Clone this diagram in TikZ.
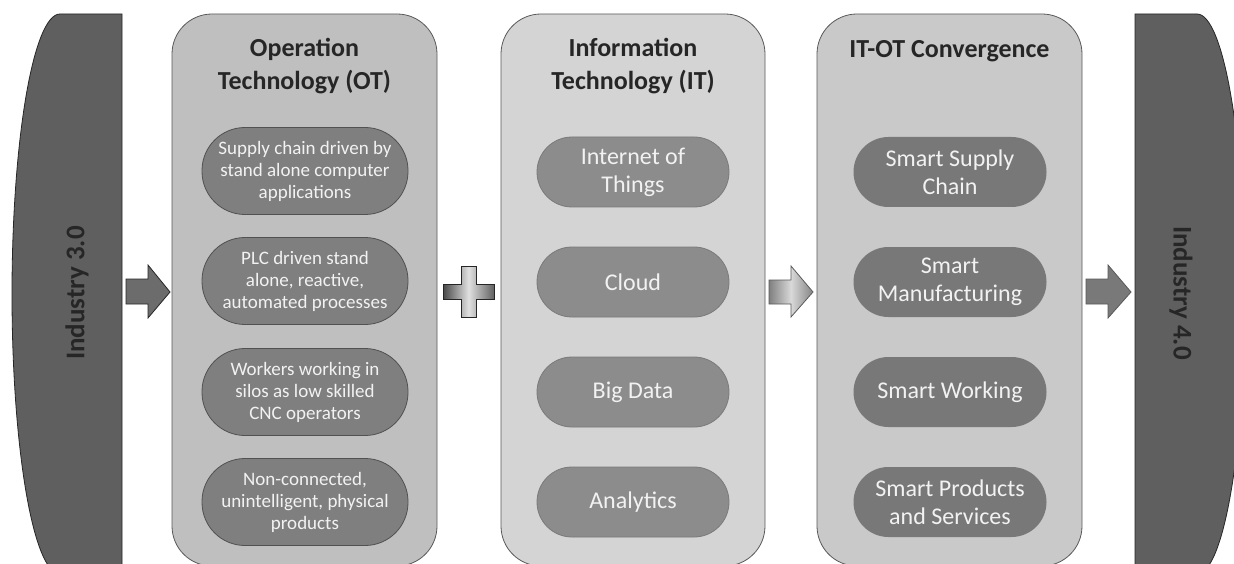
\documentclass[tikz,border=0pt]{standalone}
\usepackage{fontspec}
\setmainfont{Carlito}
\usetikzlibrary{positioning}

\definecolor{indfill}{HTML}{5F5F5F}
\definecolor{otfill}{HTML}{BFBFBF}
\definecolor{itfill}{HTML}{D4D4D4}
\definecolor{cvfill}{HTML}{C9C9C9}
\definecolor{otpill}{HTML}{7F7F7F}
\definecolor{itpill}{HTML}{8C8C8C}
\definecolor{cvpill}{HTML}{787878}
\definecolor{edgegray}{HTML}{595959}
\definecolor{txtdark}{HTML}{262626}
\definecolor{txtlight}{HTML}{F2F2F2}

\tikzset{
  colbox/.style={draw=edgegray,line width=.8pt,rounded corners=40pt,minimum height=552pt},
  coltitle/.style={font=\fontsize{26}{33}\selectfont\bfseries,text=txtdark,align=center},
  otitem/.style={draw=txtdark!80,fill=otpill,line width=.8pt,rounded corners=43pt,minimum width=206pt,minimum height=87pt,
    font=\fontsize{19}{22}\selectfont,text=txtlight,align=center},
  ititem/.style={draw=edgegray!80,fill=itpill,line width=.8pt,rounded corners=35pt,minimum width=192pt,minimum height=70pt,
    font=\fontsize{24}{28}\selectfont,text=txtlight,align=center},
  cvitem/.style={fill=cvpill,rounded corners=35pt,minimum width=193pt,minimum height=70pt,
    font=\fontsize{24}{28}\selectfont,text=txtlight,align=center},
  indtext/.style={font=\fontsize{27}{30}\selectfont\bfseries,text=txtdark},
}

\begin{document}
\begin{tikzpicture}[x=1pt,y=-1pt,every node/.style={inner sep=0pt}]
\clip (0,0) rectangle (1234,564);
% industry 3.0 / 4.0
\draw[fill=indfill,draw=txtdark,line width=.8pt] (60,14) -- (122,14) -- (122,574) -- (60,574)
  arc[start angle=90,end angle=270,x radius=48,y radius=280] -- cycle;
\draw[fill=indfill,draw=txtdark,line width=.8pt] (1197,14) -- (1135,14) -- (1135,574) -- (1197,574)
  arc[start angle=90,end angle=-90,x radius=48,y radius=280] -- cycle;
\node[indtext,rotate=90] (ind3) at (77,293) {Industry 3.0};
\node[indtext,rotate=-90] (ind4) at (1181,293) {Industry 4.0};

% columns
\node[colbox,fill=otfill,minimum width=265pt] (otbox) at (304.5,290) {};
\node[colbox,fill=itfill,minimum width=264pt] (itbox) at (633,290) {};
\node[colbox,fill=cvfill,minimum width=265pt] (cvbox) at (949.5,290) {};
\node[coltitle] (ottitle) at (304.5,66) {Operation\\Technology (OT)};
\node[coltitle] (ittitle) at (633,66) {Information\\Technology (IT)};
\node[coltitle] (cvtitle) at (949.5,51) {IT-OT Convergence};

\node[otitem] (ot1) at (305,171) {Supply chain driven by\\stand alone computer\\applications};
\node[otitem] (ot2) at (305,281) {PLC driven stand\\alone, reactive,\\automated processes};
\node[otitem] (ot3) at (305,392) {Workers working in\\silos as low skilled\\CNC operators};
\node[otitem] (ot4) at (305,502) {Non-connected,\\unintelligent, physical\\products};

\node[ititem] (it1) at (633,172) {Internet of\\Things};
\node[ititem] (it2) at (633,282) {Cloud};
\node[ititem] (it3) at (633,392) {Big Data};
\node[ititem] (it4) at (633,502) {Analytics};

\node[cvitem] (cv1) at (950,172) {Smart Supply\\Chain};
\node[cvitem] (cv2) at (950,282) {Smart\\Manufacturing};
\node[cvitem] (cv3) at (950,392) {Smart Working};
\node[cvitem] (cv4) at (950,502) {Smart Products\\and Services};

% block arrows and plus
\draw[fill=gray!85!black,draw=txtdark,line width=.8pt]
  (126,279) -- (148,279) -- (148,265) -- (170,292) -- (148,318) -- (148,304) -- (126,304) -- cycle;
\draw[fill=gray!95!black,draw=edgegray,line width=.8pt]
  (1086,279) -- (1108,279) -- (1108,265) -- (1131,292) -- (1108,318) -- (1108,304) -- (1086,304) -- cycle;
\begin{scope}
\clip (443,284) -- (461,284) -- (461,266) -- (476,266) -- (476,284) -- (494,284) -- (494,299)
  -- (476,299) -- (476,317) -- (461,317) -- (461,299) -- (443,299) -- cycle;
\foreach \i in {0,...,51}{
  \pgfmathsetmacro\shadeval{\i<25.5 ? 72-60*\i/25.5 : 12+50*(\i-25.5)/25.5}
  \fill[black!\shadeval] (442.5+\i,262) rectangle ++(1.4,60);
}
\end{scope}
\draw[draw=txtdark,line width=.8pt]
  (443,284) -- (461,284) -- (461,266) -- (476,266) -- (476,284) -- (494,284) -- (494,299)
  -- (476,299) -- (476,317) -- (461,317) -- (461,299) -- (443,299) -- cycle;
\begin{scope}
\clip (769,280) -- (791,280) -- (791,266) -- (813,292) -- (791,317) -- (791,304) -- (769,304) -- cycle;
\foreach \i in {0,...,44}{
  \pgfmathsetmacro\shadeval{\i<22 ? 50-35*\i/22 : 15+33*(\i-22)/22}
  \fill[black!\shadeval] (768.5+\i,262) rectangle ++(1.4,60);
}
\end{scope}
\draw[draw=edgegray,line width=.8pt]
  (769,280) -- (791,280) -- (791,266) -- (813,292) -- (791,317) -- (791,304) -- (769,304) -- cycle;
\end{tikzpicture}
\end{document}
